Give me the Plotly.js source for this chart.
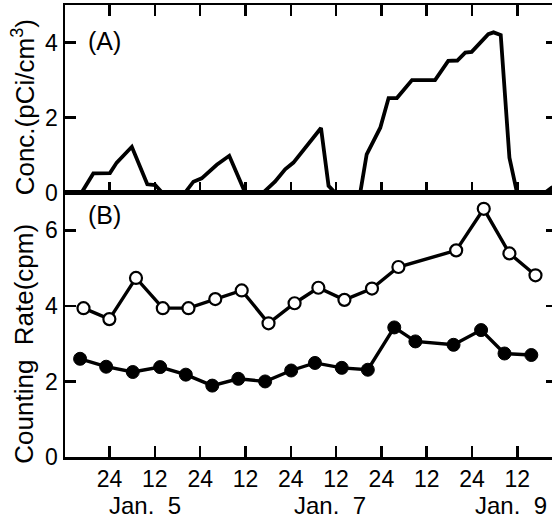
<!DOCTYPE html>
<html>
<head>
<meta charset="utf-8">
<script src="https://cdn.plot.ly/plotly-3.0.1.min.js"></script>
<style>
html, body { margin: 0; padding: 0; overflow: hidden; background: #fff; }
#chart { width: 558px; height: 518px; }
</style>
</head>
<body>
<div id="chart"></div>
<script>
// Hours measured from 00:00 Jan. 5 (the first "24" tick)
const concHours = [-11.8, -7.4, -4.3, 0.1, 1.9, 5.9, 10.0, 12.1, 13.9, 20.0, 22.2, 24.4, 28.4, 31.7, 35.9, 40.7, 43.8, 46.5, 48.7, 56.0, 58.0, 59.7, 66.4, 68.1, 71.7, 73.9, 76.1, 80.1, 86.2, 89.7, 92.1, 94.2, 95.9, 100.3, 101.7, 103.6, 105.9, 107.9, 115.4, 117.1, 118.5];
const concValues = [0, 0, 0.51, 0.52, 0.8, 1.22, 0.22, 0.2, 0, 0, 0.29, 0.38, 0.74, 0.98, 0, 0, 0.29, 0.62, 0.8, 1.72, 0.18, 0, 0, 1.02, 1.73, 2.52, 2.52, 3.0, 3.0, 3.51, 3.52, 3.73, 3.75, 4.22, 4.27, 4.2, 0.93, 0, 0, 0.13, 0.2];

const openHours = [-6.9, -0.05, 7.0, 14.1, 20.9, 28.0, 35.0, 42.1, 49.0, 55.3, 62.2, 69.5, 76.5, 91.8, 99.1, 105.9, 112.8];
const openValues = [3.94, 3.65, 4.74, 3.94, 3.94, 4.18, 4.41, 3.54, 4.07, 4.48, 4.16, 4.46, 5.03, 5.47, 6.57, 5.39, 4.81];

const filledHours = [-7.8, -0.9, 6.15, 13.4, 20.2, 27.2, 34.1, 41.2, 48.1, 54.4, 61.5, 68.4, 75.4, 81.0, 91.1, 98.4, 104.6, 111.7];
const filledValues = [2.6, 2.39, 2.25, 2.38, 2.18, 1.89, 2.07, 2.0, 2.29, 2.49, 2.36, 2.31, 3.43, 3.06, 2.97, 3.36, 2.74, 2.7];

const tickHours = [0, 12, 24, 36, 48, 60, 72, 84, 96, 108];
const tickLabels = ['24', '12', '24', '12', '24', '12', '24', '12', '24', '12'];
const dateLabels = ['Jan.  5', 'Jan.  7', 'Jan.  9'];
const dateHours = [9.5, 58.4, 106.3];

const FONT = 'Liberation Sans, Arial, sans-serif';
const traces = [
  { x: concHours, y: concValues, xaxis: 'x', yaxis: 'y', mode: 'lines',
    line: { color: '#000', width: 3.8 }, hoverinfo: 'skip' },
  { x: openHours, y: openValues, xaxis: 'x2', yaxis: 'y2', mode: 'lines+markers',
    line: { color: '#000', width: 3.4 },
    marker: { symbol: 'circle', size: 12, color: '#fff', line: { color: '#000', width: 2.2 } } },
  { x: filledHours, y: filledValues, xaxis: 'x2', yaxis: 'y2', mode: 'lines+markers',
    line: { color: '#000', width: 3.4 },
    marker: { symbol: 'circle', size: 13, color: '#000', line: { color: '#000', width: 1 } } }
];

const xRange = [-11.8, 118.5];
const axisCommon = {
  showgrid: false, zeroline: false, showline: true, linecolor: '#000', linewidth: 2.5,
  ticks: 'inside', ticklen: 11, tickwidth: 2.5, tickcolor: '#000',
  tickfont: { family: FONT, size: 23, color: '#000' }
};

const annotations = [
  { text: 'Conc.(pCi/cm<sup>3</sup>)', textangle: -90, xref: 'paper', yref: 'paper', x: -0.085, y: 0.774,
    xanchor: 'center', yanchor: 'middle', showarrow: false, font: { family: FONT, size: 26, color: '#000' } },
  { text: 'Counting  Rate(cpm)', textangle: -90, xref: 'paper', yref: 'paper', x: -0.085, y: 0.251,
    xanchor: 'center', yanchor: 'middle', showarrow: false, font: { family: FONT, size: 26, color: '#000' } },
  { text: '(A)', xref: 'paper', yref: 'paper', x: 0.0813, y: 0.92, xanchor: 'center', yanchor: 'middle',
    showarrow: false, font: { family: FONT, size: 25, color: '#000' } },
  { text: '(B)', xref: 'paper', yref: 'paper', x: 0.0813, y: 0.535, xanchor: 'center', yanchor: 'middle',
    showarrow: false, font: { family: FONT, size: 25, color: '#000' } }
];
dateLabels.forEach((t, i) => annotations.push({
  text: t, xref: 'x2', yref: 'paper', x: dateHours[i], y: -0.108, xanchor: 'center', yanchor: 'middle',
  borderpad: 0, showarrow: false, font: { family: FONT, size: 24, color: '#000' }
}));

const layout = {
  width: 558, height: 518,
  margin: { l: 65, r: 1, t: 5, b: 61 },
  paper_bgcolor: '#fff', plot_bgcolor: '#fff',
  showlegend: false,
  xaxis: Object.assign({}, axisCommon, { anchor: 'y', domain: [0, 1], range: xRange, mirror: 'ticks',
    tickvals: tickHours, ticktext: tickLabels, showticklabels: false }),
  yaxis: Object.assign({}, axisCommon, { anchor: 'x', domain: [0.585, 1], range: [0, 5], mirror: 'ticks',
    tickvals: [0, 2, 4] }),
  xaxis2: Object.assign({}, axisCommon, { anchor: 'y2', domain: [0, 1], range: xRange, mirror: true,
    tickvals: tickHours, ticktext: tickLabels }),
  yaxis2: Object.assign({}, axisCommon, { anchor: 'x2', domain: [0, 0.585], range: [0, 7], mirror: 'ticks',
    tickvals: [0, 2, 4, 6] }),
  annotations: annotations
};

Plotly.newPlot('chart', traces, layout, { displayModeBar: false, staticPlot: true });
</script>
</body>
</html>
